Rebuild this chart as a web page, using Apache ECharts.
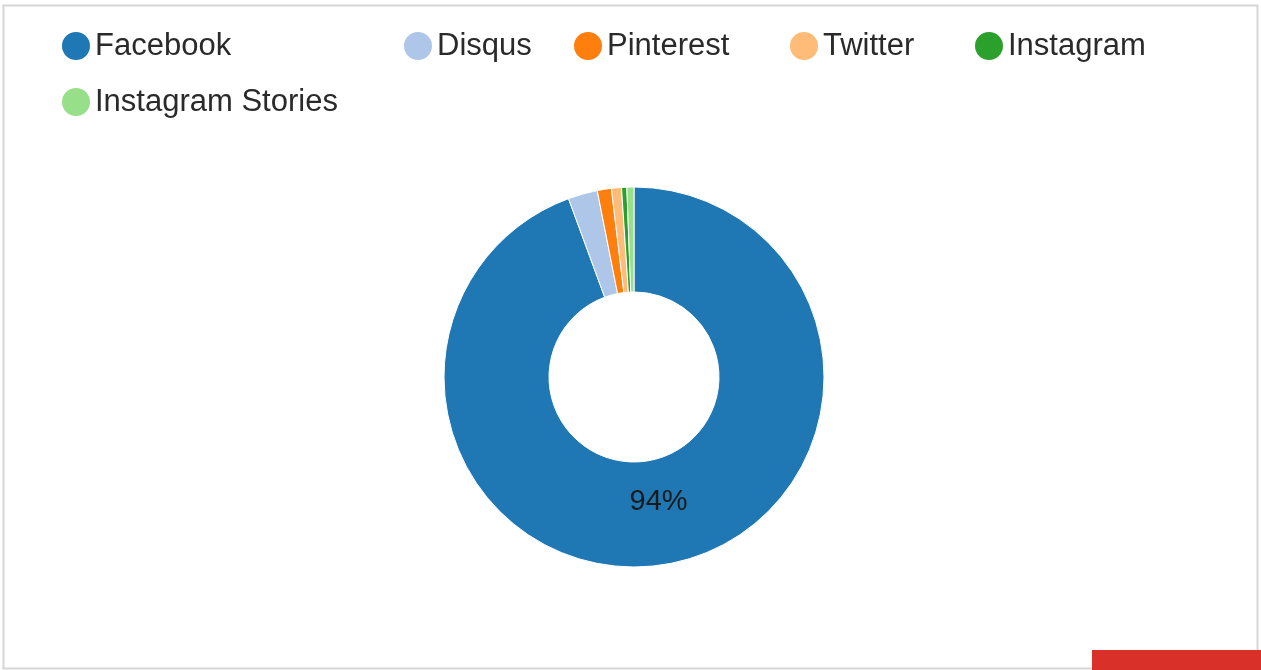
<!DOCTYPE html>
<html><head><meta charset="utf-8">
<script src="https://cdn.jsdelivr.net/npm/echarts@6/dist/echarts.min.js"></script>
<style>html,body{margin:0;padding:0;background:#fff}#c{width:1261px;height:670px}</style>
</head><body><div id="c"></div>
<script>
const categories = ['Facebook','Disqus','Pinterest','Twitter','Instagram','Instagram Stories'];
const values = [94.4, 2.5, 1.2, 0.85, 0.45, 0.6];
const colors = ['#1f77b4','#aec7e8','#ff7f0e','#ffbb78','#2ca02c','#98df8a'];
const legendLeft = [60, 402, 572, 788, 973, 60];
const legendTop = [30, 30, 30, 30, 30, 86];

const chart = echarts.init(document.getElementById('c'));
const legends = categories.map((n,i)=>({
  data:[n], left:legendLeft[i], top:legendTop[i], icon:'circle', padding:0,
  itemWidth:30, itemHeight:30, itemGap:0,
  textStyle:{fontFamily:'Liberation Sans, Arial', fontSize:31, color:'#2a2a2a', padding:[0,0,0,-1]},
  selectedMode:false
}));
chart.setOption({
  animation:false,
  color:colors,
  legend:legends,
  graphic:[
    {type:'rect', shape:{x:3.5,y:5.5,width:1254,height:663}, style:{fill:'none',stroke:'#d6d6d6',lineWidth:2}},
    {type:'rect', shape:{x:1092,y:650,width:169,height:20}, style:{fill:'#d93029'}}
  ],
  series:[{
    type:'pie', center:[634,377], radius:[85,190], startAngle:90, clockwise:true,
    itemStyle:{borderColor:'#fff', borderWidth:1},
    label:{show:true, position:'inside', fontFamily:'Liberation Sans, Arial', fontSize:29, color:'#1a1a1a',
      formatter:p=>p.percent>5?Math.round(p.percent)+'%':''},
    labelLayout:{dy:-13},
    labelLine:{show:false},
    data:categories.map((n,i)=>({name:n,value:values[i]}))
  }]
});
</script></body></html>
